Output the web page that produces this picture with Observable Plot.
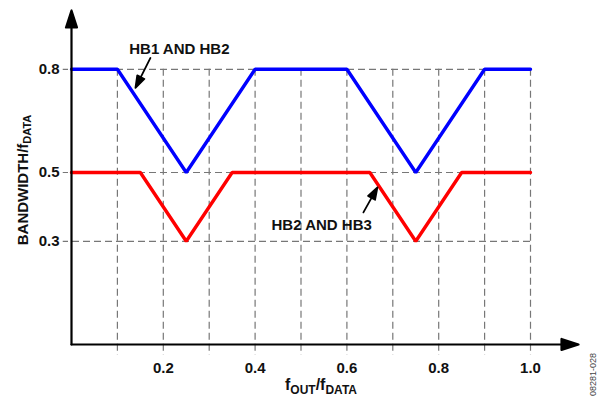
<!DOCTYPE html>
<html><head><meta charset="utf-8">
<script src="https://cdn.jsdelivr.net/npm/d3@7"></script>
<script src="https://cdn.jsdelivr.net/npm/@observablehq/plot@0.6"></script>
<style>body{margin:0;background:#fff}</style>
</head><body><div id="chart"></div>
<script>
// Series: HB1 AND HB2 (blue)
const hb12X = [0, 0.1, 0.25, 0.4, 0.6, 0.75, 0.9, 1.0];
const hb12Y = [0.8, 0.8, 0.5, 0.8, 0.8, 0.5, 0.8, 0.8];
// Series: HB2 AND HB3 (red)
const hb23X = [0, 0.15, 0.25, 0.35, 0.65, 0.75, 0.85, 1.0];
const hb23Y = [0.5, 0.5, 0.3, 0.5, 0.5, 0.3, 0.5, 0.5];
// Grid and ticks
const gridX = [0.1, 0.2, 0.3, 0.4, 0.5, 0.6, 0.7, 0.8, 0.9, 1.0];
const gridY = [0.3, 0.5, 0.8];
const xTicks = [0.2, 0.4, 0.6, 0.8, 1.0];
const yTicks = [0.3, 0.5, 0.8];
const seriesNames = ["HB1 AND HB2", "HB2 AND HB3"];
const figureId = "08281-028";

const hb12 = hb12X.map((x, i) => ({x, y: hb12Y[i]}));
const hb23 = hb23X.map((x, i) => ({x, y: hb23Y[i]}));

// filled-head arrow shape for vectors
function arrowShape(headLen, headHalf) {
  return {
    draw(context, l) {
      context.moveTo(0, 0);
      context.lineTo(0, -l + headLen * 0.6);
      context.moveTo(0, -l);
      context.lineTo(-headHalf, -l + headLen);
      context.lineTo(headHalf, -l + headLen);
      context.closePath();
    }
  };
}

const FONT = "'Liberation Sans', Arial, sans-serif";

const chart = Plot.plot({
  width: 599,
  height: 400,
  marginLeft: 71,
  marginRight: 69,
  marginTop: 0,
  marginBottom: 56,
  style: {fontFamily: FONT, background: "#fff"},
  x: {domain: [0, 1]},
  y: {domain: [0, 1]},
  marks: [
    Plot.ruleX(gridX, {y1: 0.8, y2: -0.032, stroke: "#777", strokeWidth: 1.2, strokeDasharray: "7,4"}),
    Plot.ruleY(gridY, {x1: 1.0, x2: -0.018, stroke: "#777", strokeWidth: 1.2, strokeDasharray: "7,4"}),
    Plot.axisX(xTicks, {tickSize: 0, tickPadding: 18, tickFormat: d3.format(".1f"), fontSize: 15, fontWeight: "bold", label: null, fill: "#111"}),
    Plot.axisY(yTicks, {tickSize: 0, tickPadding: 12, tickFormat: d3.format(".1f"), fontSize: 15, fontWeight: "bold", label: null, fill: "#111"}),
    Plot.line(hb12, {x: "x", y: "y", stroke: "#0000ff", strokeWidth: 3.4, strokeLinejoin: "miter"}),
    Plot.line(hb23, {x: "x", y: "y", stroke: "#ff0000", strokeWidth: 3.4, strokeLinejoin: "miter"}),
    // axes with arrows
    Plot.vector([0], {x: 0, y: 0, length: 334, rotate: 0, anchor: "start", shape: arrowShape(17, 5.5), stroke: "#000", fill: "#000", strokeWidth: 2.2}),
    Plot.vector([0], {x: 0, y: 0, length: 507, rotate: 90, anchor: "start", shape: arrowShape(17, 5.5), stroke: "#000", fill: "#000", strokeWidth: 2.2}),
    // annotations
    Plot.text([seriesNames[0]], {x: 0.235, y: 0.859, text: d => d, fontSize: 15, fontWeight: "bold", fill: "#111"}),
    Plot.text([seriesNames[1]], {x: 0.545, y: 0.346, text: d => d, fontSize: 15, fontWeight: "bold", fill: "#111"}),
    Plot.vector([0], {x: 0.172, y: 0.833, length: 33.5, rotate: 206.6, anchor: "start", shape: arrowShape(12, 4), stroke: "#000", fill: "#000", strokeWidth: 1.8}),
    Plot.vector([0], {x: 0.636, y: 0.384, length: 28.7, rotate: 29.2, anchor: "start", shape: arrowShape(12, 4), stroke: "#000", fill: "#000", strokeWidth: 1.8})
  ]
});

const svg = d3.select(chart);
// y-axis label
const yl = svg.append("text")
  .attr("transform", "translate(28,180) rotate(-90)")
  .attr("text-anchor", "middle")
  .attr("font-family", FONT).attr("font-weight", "bold").attr("font-size", 15).attr("fill", "#111");
yl.append("tspan").text("BANDWIDTH/f");
yl.append("tspan").attr("dy", 3).attr("font-size", 11).text("DATA");
// x-axis label
const xl = svg.append("text")
  .attr("x", 321).attr("y", 390)
  .attr("text-anchor", "middle")
  .attr("font-family", FONT).attr("font-weight", "bold").attr("font-size", 16).attr("fill", "#111");
xl.append("tspan").text("f");
xl.append("tspan").attr("dy", 4).attr("font-size", 12).text("OUT");
xl.append("tspan").attr("dy", -4).text("/f");
xl.append("tspan").attr("dy", 4).attr("font-size", 12).text("DATA");
// figure id
svg.append("text")
  .attr("transform", "translate(596,353) rotate(-90)")
  .attr("text-anchor", "end")
  .attr("font-family", FONT).attr("font-size", 9).attr("fill", "#444")
  .text(figureId);

document.getElementById("chart").appendChild(chart);
</script>
</body></html>
